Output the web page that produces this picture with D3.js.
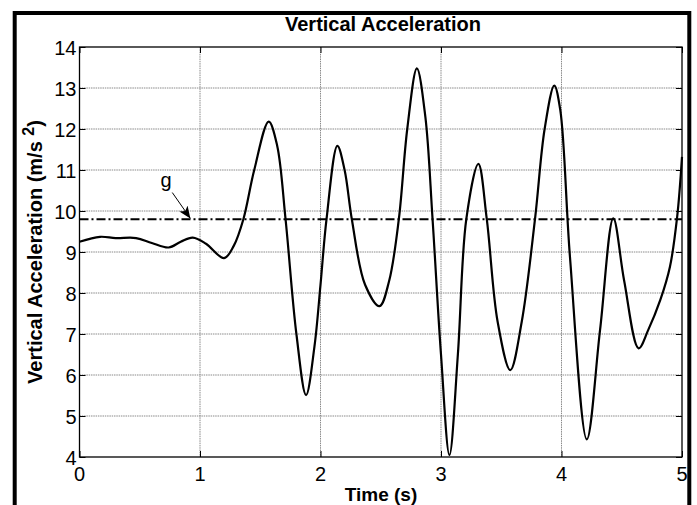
<!DOCTYPE html>
<html>
<head>
<meta charset="utf-8">
<script src="https://cdn.jsdelivr.net/npm/d3@7"></script>
<style>
  html, body { margin: 0; padding: 0; background: #fff; }
  svg { display: block; }
  text { font-family: "Liberation Sans", Arial, sans-serif; fill: #000; }
</style>
</head>
<body>
<div id="chart"></div>
<script>
// ---- data ----
const timeS = [0, 0.17, 0.3, 0.47, 0.6, 0.74, 0.84, 0.94, 1.05, 1.2, 1.28, 1.36, 1.45, 1.57, 1.64, 1.71, 1.8, 1.88, 1.95, 2.0, 2.05, 2.14, 2.2, 2.26, 2.37, 2.49, 2.57, 2.65, 2.72, 2.8, 2.87, 2.93, 3.0, 3.07, 3.14, 3.21, 3.31, 3.38, 3.47, 3.575, 3.67, 3.78, 3.86, 3.94, 3.99, 4.07, 4.21, 4.32, 4.43, 4.52, 4.64, 4.72, 4.82, 4.9, 4.96, 5.0];
const accel = [9.25, 9.37, 9.34, 9.34, 9.22, 9.11, 9.25, 9.35, 9.2, 8.85, 9.15, 9.8, 11.0, 12.18, 11.6, 9.8, 7.0, 5.51, 6.7, 8.2, 9.8, 11.59, 11.0, 9.8, 8.2, 7.68, 8.3, 9.8, 12.0, 13.48, 12.3, 9.8, 6.5, 4.05, 6.5, 9.8, 11.15, 9.8, 7.3, 6.12, 7.3, 9.8, 12.0, 13.06, 12.46, 8.89, 4.43, 7.1, 9.82, 8.3, 6.65, 7.1, 7.83, 8.64, 9.86, 11.32];
const gValue = [9.8];
const xTicks = [0, 1, 2, 3, 4, 5];
const yTicks = [4, 5, 6, 7, 8, 9, 10, 11, 12, 13, 14];
const titleText = "Vertical Acceleration";
const xLabelText = "Time (s)";
const yLabelText = "Vertical Acceleration (m/s ";
const annotationText = "g";
const arrowFrom = [0.77, 10.45];  // (t, value) start of annotation arrow
const arrowTo = [0.92, 9.82];     // arrow tip on the g line

// ---- layout ----
const W = 697, H = 505;
const m = { left: 79.5, right: 682, top: 47, bottom: 457 };

const svg = d3.select("#chart").append("svg").attr("width", W).attr("height", H);

const x = d3.scaleLinear().domain([0, 5]).range([m.left, m.right]);
const y = d3.scaleLinear().domain([4, 14]).range([m.bottom, m.top]);

// outer figure border
svg.append("rect")
  .attr("x", 14.7).attr("y", 13).attr("width", 674.6).attr("height", 540)
  .attr("fill", "none").attr("stroke", "#000").attr("stroke-width", 4);

// grid
const grid = svg.append("g");
grid.selectAll(".gx").data(xTicks.slice(1, -1)).join("line")
  .attr("x1", d => x(d)).attr("x2", d => x(d))
  .attr("y1", m.top).attr("y2", m.bottom)
  .attr("stroke", "#8a8a8a").attr("stroke-width", 1).attr("stroke-dasharray", "1.5,0.8");
grid.selectAll(".gy").data(yTicks.slice(1, -1)).join("line")
  .attr("x1", m.left).attr("x2", m.right)
  .attr("y1", d => y(d)).attr("y2", d => y(d))
  .attr("stroke", "#8a8a8a").attr("stroke-width", 1).attr("stroke-dasharray", "1.5,0.8");

// axes using d3 axis generators (inward ticks)
const tickLen = 6;
const axB = svg.append("g").attr("transform", `translate(0,${m.bottom})`)
  .call(d3.axisTop(x).tickValues(xTicks).tickSize(tickLen).tickFormat(""));
const axT = svg.append("g").attr("transform", `translate(0,${m.top})`)
  .call(d3.axisBottom(x).tickValues(xTicks).tickSize(tickLen).tickFormat(""));
const axL = svg.append("g").attr("transform", `translate(${m.left},0)`)
  .call(d3.axisRight(y).tickValues(yTicks).tickSize(tickLen).tickFormat(""));
const axR = svg.append("g").attr("transform", `translate(${m.right},0)`)
  .call(d3.axisLeft(y).tickValues(yTicks).tickSize(tickLen).tickFormat(""));
[axB, axT, axL, axR].forEach(a => {
  a.select(".domain").remove();
  a.selectAll("line").attr("stroke", "#000").attr("stroke-width", 1);
});

// plot box
svg.append("rect")
  .attr("x", m.left).attr("y", m.top)
  .attr("width", m.right - m.left).attr("height", m.bottom - m.top)
  .attr("fill", "none").attr("stroke", "#000").attr("stroke-width", 1.3);

// tick labels
svg.selectAll(".xt").data(xTicks).join("text")
  .attr("x", d => x(d)).attr("y", 480.5)
  .attr("text-anchor", "middle").attr("font-size", 20)
  .text(d => d);
svg.selectAll(".yt").data(yTicks).join("text")
  .attr("x", 76.5).attr("y", d => y(d) + 7.5)
  .attr("text-anchor", "end").attr("font-size", 20)
  .text(d => d);

// g reference line (dash-dot)
svg.append("line")
  .attr("x1", x(0)).attr("x2", x(5))
  .attr("y1", y(gValue[0])).attr("y2", y(gValue[0]))
  .attr("stroke", "#000").attr("stroke-width", 2)
  .attr("stroke-dasharray", "9,3,2,3");

// curve
const line = d3.line().x((d, i) => x(timeS[i])).y(d => y(d)).curve(d3.curveCatmullRom.alpha(0.5));
svg.append("path").datum(accel)
  .attr("d", line)
  .attr("fill", "none").attr("stroke", "#000").attr("stroke-width", 2.2)
  .attr("stroke-linejoin", "round");

// annotation arrow
svg.append("defs").append("marker")
  .attr("id", "ah").attr("viewBox", "0 0 12 10")
  .attr("refX", 12).attr("refY", 5)
  .attr("markerWidth", 13).attr("markerHeight", 10)
  .attr("markerUnits", "userSpaceOnUse")
  .attr("orient", "auto")
  .append("path").attr("d", "M0,0 L12,5 L0,10 L3,5 Z").attr("fill", "#000");
svg.append("line")
  .attr("x1", x(arrowFrom[0])).attr("y1", y(arrowFrom[1]))
  .attr("x2", x(arrowTo[0])).attr("y2", y(arrowTo[1]))
  .attr("stroke", "#000").attr("stroke-width", 1)
  .attr("marker-end", "url(#ah)");
svg.append("text")
  .attr("x", 166).attr("y", 187)
  .attr("text-anchor", "middle").attr("font-size", 20)
  .text(annotationText);

// title
svg.append("text")
  .attr("x", 383).attr("y", 31)
  .attr("text-anchor", "middle").attr("font-size", 20).attr("font-weight", "bold")
  .text(titleText);

// x label
svg.append("text")
  .attr("x", 381).attr("y", 501)
  .attr("text-anchor", "middle").attr("font-size", 19).attr("font-weight", "bold")
  .text(xLabelText);

// y label
const yl = svg.append("text")
  .attr("transform", `translate(42,${(m.top + m.bottom) / 2}) rotate(-90)`)
  .attr("text-anchor", "middle").attr("font-size", 20).attr("font-weight", "bold");
yl.append("tspan").text(yLabelText);
yl.append("tspan").attr("dy", -8).attr("font-size", 16).text("2");
yl.append("tspan").attr("dy", 8).text(")");
</script>
</body>
</html>
